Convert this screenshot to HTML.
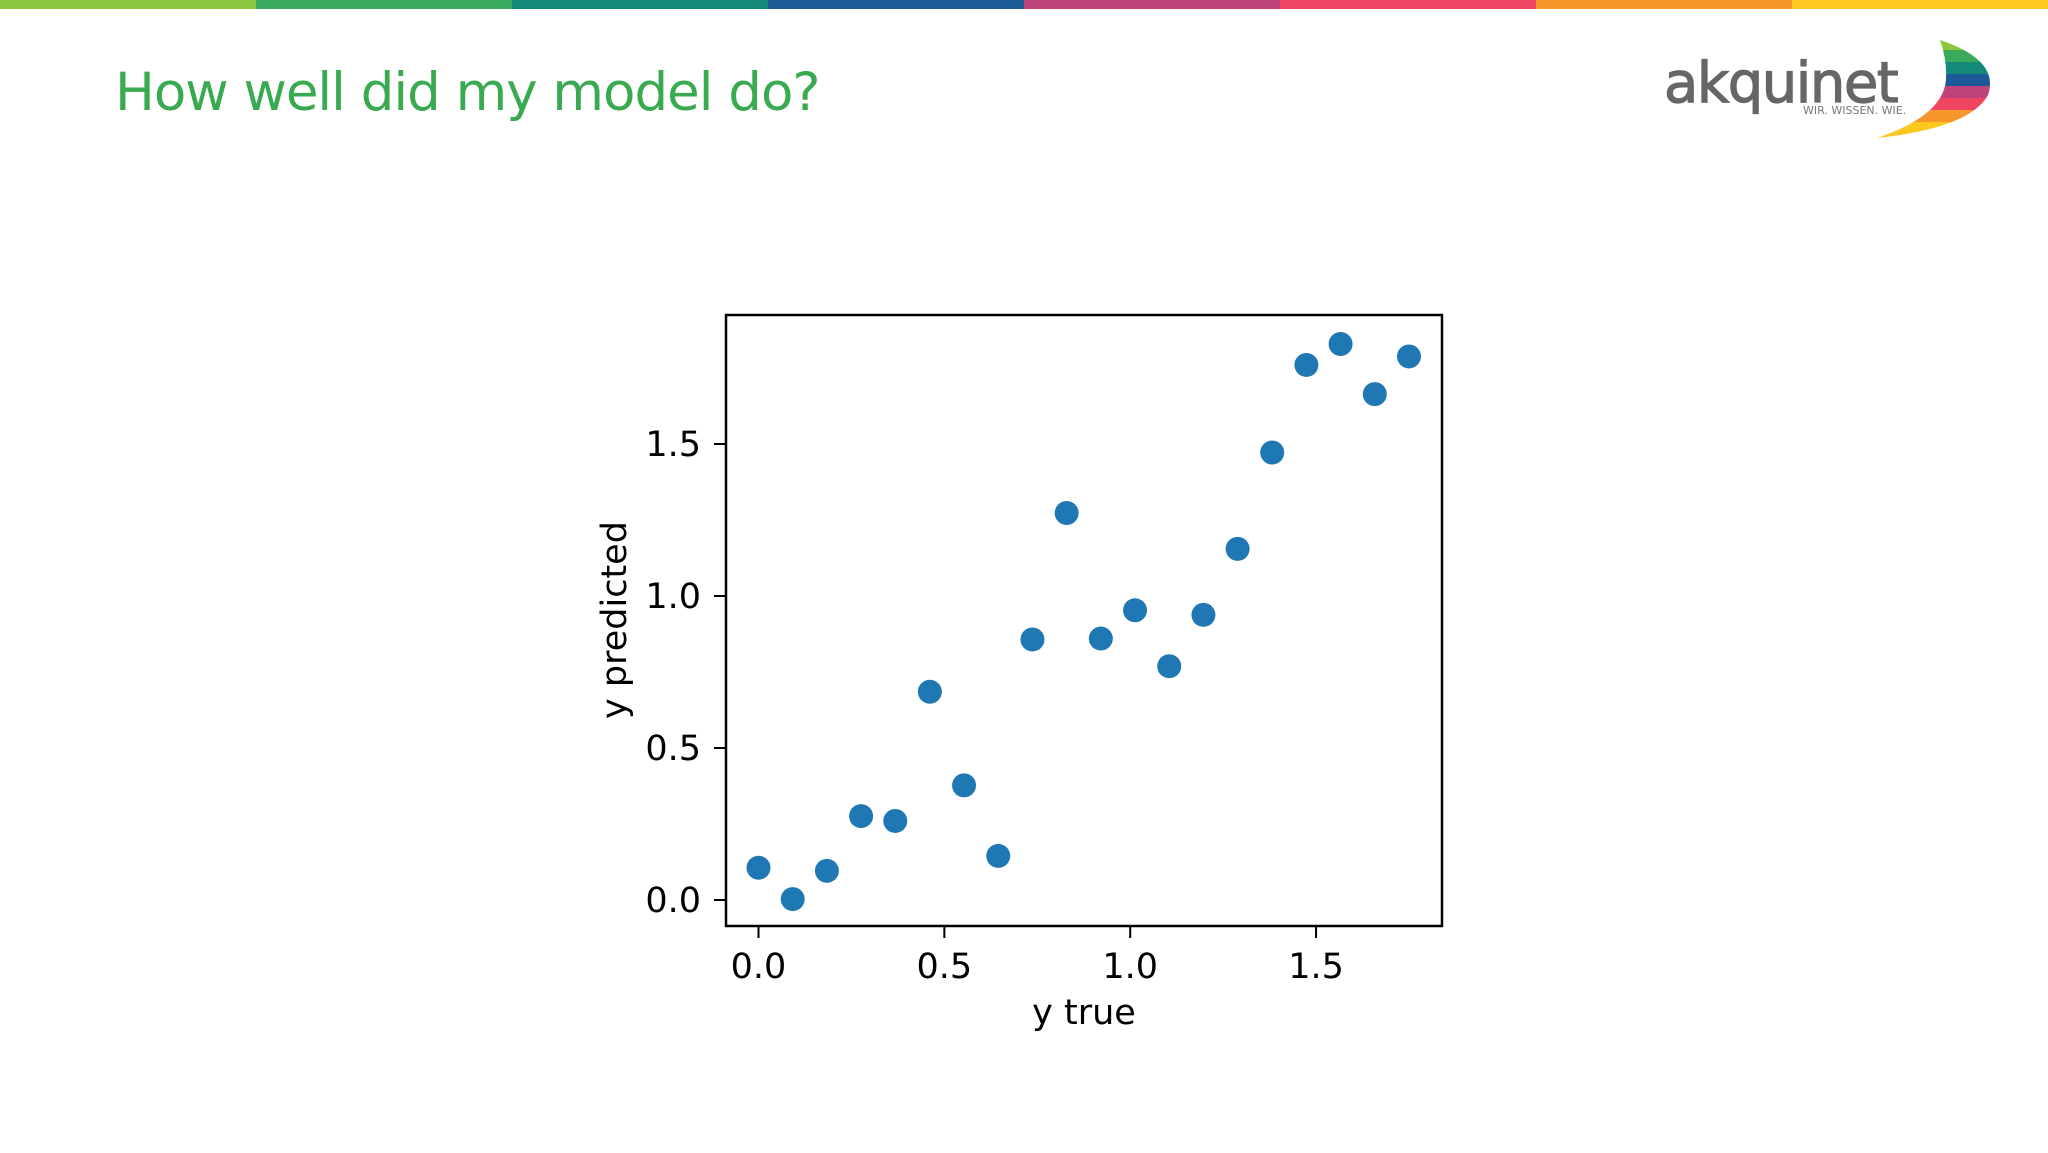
<!DOCTYPE html>
<html><head><meta charset="utf-8"><style>
body{margin:0;width:2048px;height:1153px;background:#fff;overflow:hidden;position:relative;font-family:"Liberation Sans",sans-serif}
.bar{position:absolute;top:0;height:9px;width:256px}
</style></head><body>
<div>
<div class="bar" style="left:0;background:#8dc63f"></div>
<div class="bar" style="left:256px;background:#3aaa5c"></div>
<div class="bar" style="left:512px;background:#14897a"></div>
<div class="bar" style="left:768px;background:#1b5a96"></div>
<div class="bar" style="left:1024px;background:#c0427a"></div>
<div class="bar" style="left:1280px;background:#ef4560"></div>
<div class="bar" style="left:1536px;background:#f7962a"></div>
<div class="bar" style="left:1792px;background:#fdc921"></div>
</div>
<div style="position:absolute;left:115px;top:62px;font-size:53px;color:#3aaa50;font-family:'DejaVu Sans',sans-serif;letter-spacing:-1px">How well did my model do?</div>
<svg width="2048" height="160" style="position:absolute;left:0;top:0">
<text x="1664" y="102" font-family="DejaVu Sans, sans-serif" font-size="56" fill="#666" letter-spacing="-1.5" stroke="#666" stroke-width="1.2">akquinet</text>
<text x="1803" y="114" font-family="DejaVu Sans, sans-serif" font-size="11" fill="#777">WIR. WISSEN. WIE.</text>
<defs><clipPath id="sw"><path d="M1940 40 Q2000 60 1988 95 Q1970 128 1877 138 Q1945 115 1946 78 Q1947 60 1940 40Z"/></clipPath></defs>
<g clip-path="url(#sw)">
<rect x="1860" y="38" width="140" height="12" fill="#8dc63f"/><rect x="1860" y="50" width="140" height="12" fill="#3aaa5c"/>
<rect x="1860" y="62" width="140" height="12" fill="#14897a"/><rect x="1860" y="74" width="140" height="12" fill="#1b5a96"/>
<rect x="1860" y="86" width="140" height="12" fill="#c0427a"/><rect x="1860" y="98" width="140" height="12" fill="#ef4560"/>
<rect x="1860" y="110" width="140" height="12" fill="#f7962a"/><rect x="1860" y="122" width="140" height="18" fill="#fdc921"/>
</g></svg>
<svg id="chart" width="2048" height="1153" style="position:absolute;left:0;top:0;font-family:'DejaVu Sans',sans-serif"></svg>
<script>
const xValues=[0,0.092,0.184,0.276,0.368,0.461,0.553,0.645,0.737,0.829,0.921,1.013,1.105,1.197,1.289,1.382,1.474,1.566,1.658,1.75];
const yValues=[0.106,0.003,0.096,0.276,0.260,0.685,0.377,0.145,0.857,1.273,0.860,0.953,0.769,0.938,1.155,1.472,1.760,1.829,1.664,1.788];
const xTicks=[0,0.5,1.0,1.5];
const yTicks=[0,0.5,1.0,1.5];
const tickLabels=["0.0","0.5","1.0","1.5"];
const NS="http://www.w3.org/2000/svg",svg=document.getElementById('chart');
const L=726,R=1442,T=315,B=926;
const sx=v=>758.5+371.7*v, sy=v=>900-304*v;
function mk(t,a,p){const e=document.createElementNS(NS,t);for(const k in a)e.setAttribute(k,a[k]);(p||svg).appendChild(e);return e;}
const frame=mk('rect',{x:L,y:T,width:R-L,height:B-T,fill:'none',stroke:'#000','stroke-width':2.5});


xTicks.forEach((v,i)=>{
 const tk=mk('line',{x1:sx(v),x2:sx(v),y1:B,y2:B+12,stroke:'#000','stroke-width':2});
 
 
 const t=mk('text',{x:sx(v),y:978,'text-anchor':'middle','font-size':35,fill:'#000'});t.textContent=tickLabels[i];
 
 
});
yTicks.forEach((v,i)=>{
 const tk=mk('line',{x1:L-12,x2:L,y1:sy(v),y2:sy(v),stroke:'#000','stroke-width':2});
 
 
 const t=mk('text',{x:701,y:sy(v)+12,'text-anchor':'end','font-size':35,fill:'#000'});t.textContent=tickLabels[i];
 
 
});
const xt=mk('text',{x:1084,y:1024,'text-anchor':'middle','font-size':35,fill:'#000'});xt.textContent='y true';


const yt=mk('text',{x:0,y:0,'text-anchor':'middle','font-size':35,fill:'#000',transform:'translate(626,620) rotate(-90)'});yt.textContent='y predicted';


xValues.forEach((v,i)=>{
 const c=mk('ellipse',{cx:sx(v),cy:sy(yValues[i]),rx:12,ry:12,fill:'#1f77b4'});
 
 
});
</script>
</body></html>
